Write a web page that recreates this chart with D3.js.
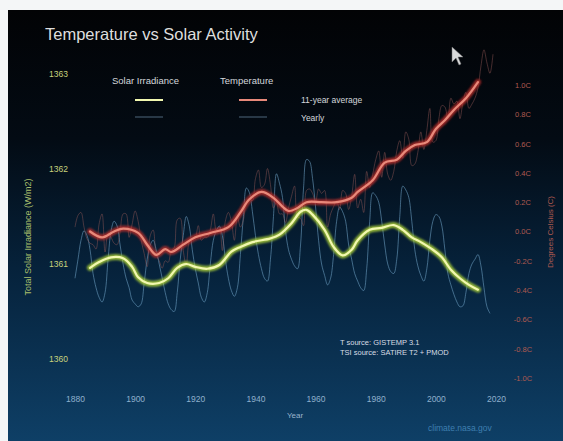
<!DOCTYPE html>
<html><head><meta charset="utf-8">
<script src="https://cdn.jsdelivr.net/npm/d3@7"></script>
<style>html,body{margin:0;padding:0;background:#f4f6f7;overflow:hidden} svg{display:block;}</style>
</head><body>
<svg id="c" width="563" height="441"></svg>
<script>
// ---- data ----
const xTicks = [1880,1900,1920,1940,1960,1980,2000,2020];
const solarTicks = [1360,1361,1362,1363];
const tempTicks = [-1.0,-0.8,-0.6,-0.4,-0.2,0.0,0.2,0.4,0.6,0.8,1.0];
const tempTickLabels = ["-1.0C","-0.8C","-0.6C","-0.4C","-0.2C","0.0C","0.2C","0.4C","0.6C","0.8C","1.0C"];

const solarAvgYears = [1885,1888,1892,1896,1899,1901,1904,1908,1911,1914,1917,1920,1924,1928,1932,1935,1939,1945,1948,1952,1955,1957,1959,1963,1966,1969,1972,1974,1978,1982,1986,1989,1992,1995,1999,2002,2005,2008,2011,2014];
const solarAvg = [1360.96,1361.02,1361.07,1361.06,1360.97,1360.86,1360.80,1360.80,1360.85,1360.96,1361.00,1360.97,1360.95,1360.99,1361.13,1361.18,1361.23,1361.27,1361.31,1361.43,1361.55,1361.57,1361.52,1361.36,1361.18,1361.09,1361.15,1361.25,1361.36,1361.38,1361.41,1361.36,1361.28,1361.23,1361.15,1361.07,1360.94,1360.85,1360.78,1360.73];

const tempAvgYears = [1885,1889,1893,1896,1901,1904,1907,1910,1912,1916,1920,1925,1931,1935,1938,1942,1946,1949,1951,1954,1957,1962,1967,1972,1974,1979,1983,1987,1990,1993,1997,2000,2003,2006,2010,2014];
const tempAvg = [0.00,-0.04,0.00,0.02,-0.01,-0.09,-0.16,-0.12,-0.14,-0.09,-0.04,-0.01,0.03,0.13,0.22,0.27,0.23,0.17,0.14,0.16,0.20,0.20,0.20,0.23,0.27,0.35,0.47,0.49,0.55,0.59,0.61,0.70,0.76,0.83,0.91,1.02];

const solarYearlyStart = 1880;
const solarYearly = [1360.85,1361.05,1361.25,1361.35,1361.30,1361.15,1360.90,1360.75,1360.65,1360.60,
1360.70,1361.05,1361.35,1361.45,1361.40,1361.20,1361.00,1360.85,1360.75,1360.62,
1360.58,1360.55,1360.58,1360.80,1361.05,1361.20,1361.25,1361.15,1361.00,1360.85,
1360.70,1360.58,1360.52,1360.50,1360.70,1361.05,1361.30,1361.50,1361.40,1361.15,
1360.95,1360.80,1360.65,1360.60,1360.70,1361.00,1361.25,1361.35,1361.40,1361.30,
1361.05,1360.85,1360.72,1360.66,1360.75,1361.10,1361.50,1361.80,1361.75,1361.55,
1361.30,1361.10,1360.95,1360.85,1360.82,1361.05,1361.50,1361.95,1361.85,1361.70,
1361.35,1361.15,1361.05,1360.98,1360.95,1361.20,1361.80,1362.10,1362.08,1361.90,
1361.60,1361.25,1361.00,1360.88,1360.78,1360.85,1361.10,1361.45,1361.60,1361.55,
1361.45,1361.20,1361.05,1360.90,1360.82,1360.75,1360.72,1360.95,1361.45,1361.75,
1361.72,1361.65,1361.45,1361.20,1361.00,1360.92,1360.90,1361.05,1361.50,1361.82,
1361.78,1361.70,1361.45,1361.15,1360.98,1360.88,1360.82,1360.95,1361.25,1361.45,
1361.52,1361.50,1361.40,1361.15,1360.90,1360.78,1360.68,1360.60,1360.55,1360.56,
1360.70,1360.90,1361.00,1361.05,1361.10,1360.98,1360.75,1360.55,1360.48];

const tempYearlyStart = 1880;
const tempYearly = [0.03,0.11,0.13,0.03,-0.05,-0.08,-0.09,-0.12,0.05,0.12,
-0.14,-0.01,-0.04,-0.08,-0.09,0.00,0.12,0.12,-0.04,0.05,
0.14,0.07,-0.06,-0.15,-0.24,-0.03,0.01,-0.16,-0.20,-0.25,
-0.20,-0.21,-0.13,-0.11,0.08,0.09,-0.13,-0.23,-0.07,-0.05,
-0.04,0.04,-0.06,-0.04,-0.04,0.01,0.12,0.01,0.03,-0.13,
0.07,0.13,0.07,-0.06,0.10,0.03,0.08,0.20,0.22,0.21,
0.36,0.42,0.30,0.32,0.43,0.32,0.16,0.20,0.12,0.12,
0.06,0.16,0.24,0.31,0.10,0.09,0.04,0.28,0.29,0.26,
0.20,0.29,0.26,0.28,0.03,0.12,0.17,0.21,0.15,0.28,
0.26,0.15,0.24,0.39,0.16,0.22,0.13,0.41,0.30,0.39,
0.49,0.55,0.37,0.54,0.39,0.35,0.41,0.55,0.62,0.50,
0.68,0.63,0.45,0.46,0.54,0.68,0.56,0.69,0.84,0.61,
0.62,0.77,0.86,0.85,0.77,0.91,0.87,0.89,0.77,0.88,
0.95,0.84,0.87,0.91,0.98,1.13,1.24,1.15,1.08,1.21];

// ---- drawing ----
const W = 563, H = 441;
const svg = d3.select("#c");
const FONT = "'Liberation Sans', Arial, Helvetica, sans-serif";

const defs = svg.append("defs");
const grad = defs.append("linearGradient").attr("id","bg").attr("x1",0).attr("y1",0).attr("x2",0).attr("y2",1);
grad.append("stop").attr("offset","0%").attr("stop-color","#020305");
grad.append("stop").attr("offset","30%").attr("stop-color","#030b14");
grad.append("stop").attr("offset","60%").attr("stop-color","#06223b");
grad.append("stop").attr("offset","100%").attr("stop-color","#0e3f66");
const blur = defs.append("filter").attr("id","glow").attr("x","-10%").attr("y","-10%").attr("width","120%").attr("height","120%");
blur.append("feGaussianBlur").attr("stdDeviation",1.3);

svg.append("rect").attr("width",W).attr("height",H).attr("fill","#f4f6f7");
svg.append("rect").attr("x",8).attr("y",10).attr("width",W-8).attr("height",H-10).attr("fill","url(#bg)");

const x = d3.scaleLinear().domain([1880,2020]).range([75,496]);
const yS = d3.scaleLinear().domain([1360,1363]).range([359,74]);
const yT = d3.scaleLinear().domain([-1,1]).range([378,85]);

// title
svg.append("text").attr("x",45).attr("y",40).attr("fill","#dedede")
  .attr("font-family",FONT).attr("font-size",16.5).text("Temperature vs Solar Activity");

// axes
const gx = svg.append("g").attr("transform","translate(0,396)")
  .call(d3.axisBottom(x).tickValues(xTicks).tickFormat(d3.format("d")).tickSize(0).tickPadding(0));
gx.select(".domain").remove();
gx.selectAll("text").attr("fill","#8fb0cc").attr("font-family",FONT).attr("font-size",8.5);

const gl = svg.append("g").attr("transform","translate(68,0)")
  .call(d3.axisLeft(yS).tickValues(solarTicks).tickFormat(d3.format("d")).tickSize(0).tickPadding(0));
gl.select(".domain").remove();
gl.selectAll("text").attr("fill","#c8d27c").attr("font-family",FONT).attr("font-size",8.5);

const gr = svg.append("g").attr("transform","translate(523,0)")
  .call(d3.axisRight(yT).tickValues(tempTicks).tickFormat((d,i)=>tempTickLabels[i]).tickSize(0).tickPadding(0));
gr.select(".domain").remove();
gr.selectAll("text").attr("fill","#b05a50").attr("font-family",FONT).attr("font-size",7.5).attr("text-anchor","middle");

// axis titles
svg.append("text").attr("transform","translate(31,237) rotate(-90)").attr("text-anchor","middle")
  .attr("fill","#a9bf6c").attr("font-family",FONT).attr("font-size",9).text("Total Solar Irradiance (W/m2)");
svg.append("text").attr("transform","translate(553,232) rotate(-90)").attr("text-anchor","middle")
  .attr("fill","#b05a50").attr("font-family",FONT).attr("font-size",8).text("Degrees Celsius (C)");
svg.append("text").attr("x",295).attr("y",418).attr("text-anchor","middle")
  .attr("fill","#9ab4cc").attr("font-family",FONT).attr("font-size",8).text("Year");

// thin yearly lines
const solarYearlyData = solarYearly.map((v,i)=>[solarYearlyStart+i, v]);
const tempYearlyData = tempYearly.map((v,i)=>[tempYearlyStart+i, v]);
const lineS = d3.line().x(d=>x(d[0])).y(d=>yS(d[1])).curve(d3.curveCatmullRom);
const lineT = d3.line().x(d=>x(d[0])).y(d=>yT(d[1])).curve(d3.curveCatmullRom);

svg.append("path").datum(solarYearlyData).attr("d",lineS).attr("fill","none")
  .attr("stroke","#6a9cc0").attr("stroke-opacity",0.6).attr("stroke-width",1);
svg.append("path").datum(tempYearlyData).attr("d",lineT).attr("fill","none")
  .attr("stroke","#9a5a58").attr("stroke-opacity",0.45).attr("stroke-width",1);

// thick averages
const solarAvgData = solarAvgYears.map((y,i)=>[y, solarAvg[i]]);
const tempAvgData = tempAvgYears.map((y,i)=>[y, tempAvg[i]]);

function thick(data, line, glowColor, coreColor){
  svg.append("path").datum(data).attr("d",line).attr("fill","none")
    .attr("stroke",glowColor).attr("stroke-width",6).attr("stroke-opacity",0.8)
    .attr("filter","url(#glow)").attr("stroke-linecap","round");
  svg.append("path").datum(data).attr("d",line).attr("fill","none")
    .attr("stroke",coreColor).attr("stroke-width",2.2).attr("stroke-linecap","round");
}
thick(tempAvgData, lineT, "#c0302a", "#e8897a");
thick(solarAvgData, lineS, "#b4d83a", "#f2f8b0");

// legend
const lg = svg.append("g");
lg.append("text").attr("x",112).attr("y",84).attr("fill","#d4d8dc").attr("font-family",FONT).attr("font-size",9.5).text("Solar Irradiance");
lg.append("text").attr("x",220).attr("y",84).attr("fill","#d4d8dc").attr("font-family",FONT).attr("font-size",9.5).text("Temperature");
lg.append("text").attr("x",301).attr("y",103).attr("fill","#d4d8dc").attr("font-family",FONT).attr("font-size",8.5).text("11-year average");
lg.append("text").attr("x",301).attr("y",121).attr("fill","#d4d8dc").attr("font-family",FONT).attr("font-size",8.5).text("Yearly");
[[135,"#b4d83a","#f2f8b0"],[239,"#c0302a","#e8897a"]].forEach(([lx,g,c])=>{
  lg.append("line").attr("x1",lx).attr("x2",lx+28).attr("y1",100).attr("y2",100)
    .attr("stroke",g).attr("stroke-width",5).attr("stroke-opacity",0.8).attr("filter","url(#glow)");
  lg.append("line").attr("x1",lx).attr("x2",lx+28).attr("y1",100).attr("y2",100)
    .attr("stroke",c).attr("stroke-width",2);
  lg.append("line").attr("x1",lx).attr("x2",lx+28).attr("y1",117).attr("y2",117)
    .attr("stroke","#6f8ea8").attr("stroke-opacity",0.7).attr("stroke-width",1);
});

// sources
svg.append("text").attr("x",340).attr("y",345).attr("fill","#d8dde5").attr("font-family",FONT).attr("font-size",7.5).text("T source: GISTEMP 3.1");
svg.append("text").attr("x",340).attr("y",355).attr("fill","#d8dde5").attr("font-family",FONT).attr("font-size",7.5).text("TSI source: SATIRE T2 + PMOD");
svg.append("text").attr("x",428).attr("y",431).attr("fill","#3f7fb0").attr("font-family",FONT).attr("font-size",8.5).text("climate.nasa.gov");

// mouse cursor artifact
svg.append("path").attr("d","M452,47 l0,15 l4,-4 l3,7 l2,-1 l-3,-7 l5,0 z")
  .attr("fill","#ffffff").attr("stroke","#888").attr("stroke-width",0.5).attr("opacity",0.85);
</script>
</body></html>
